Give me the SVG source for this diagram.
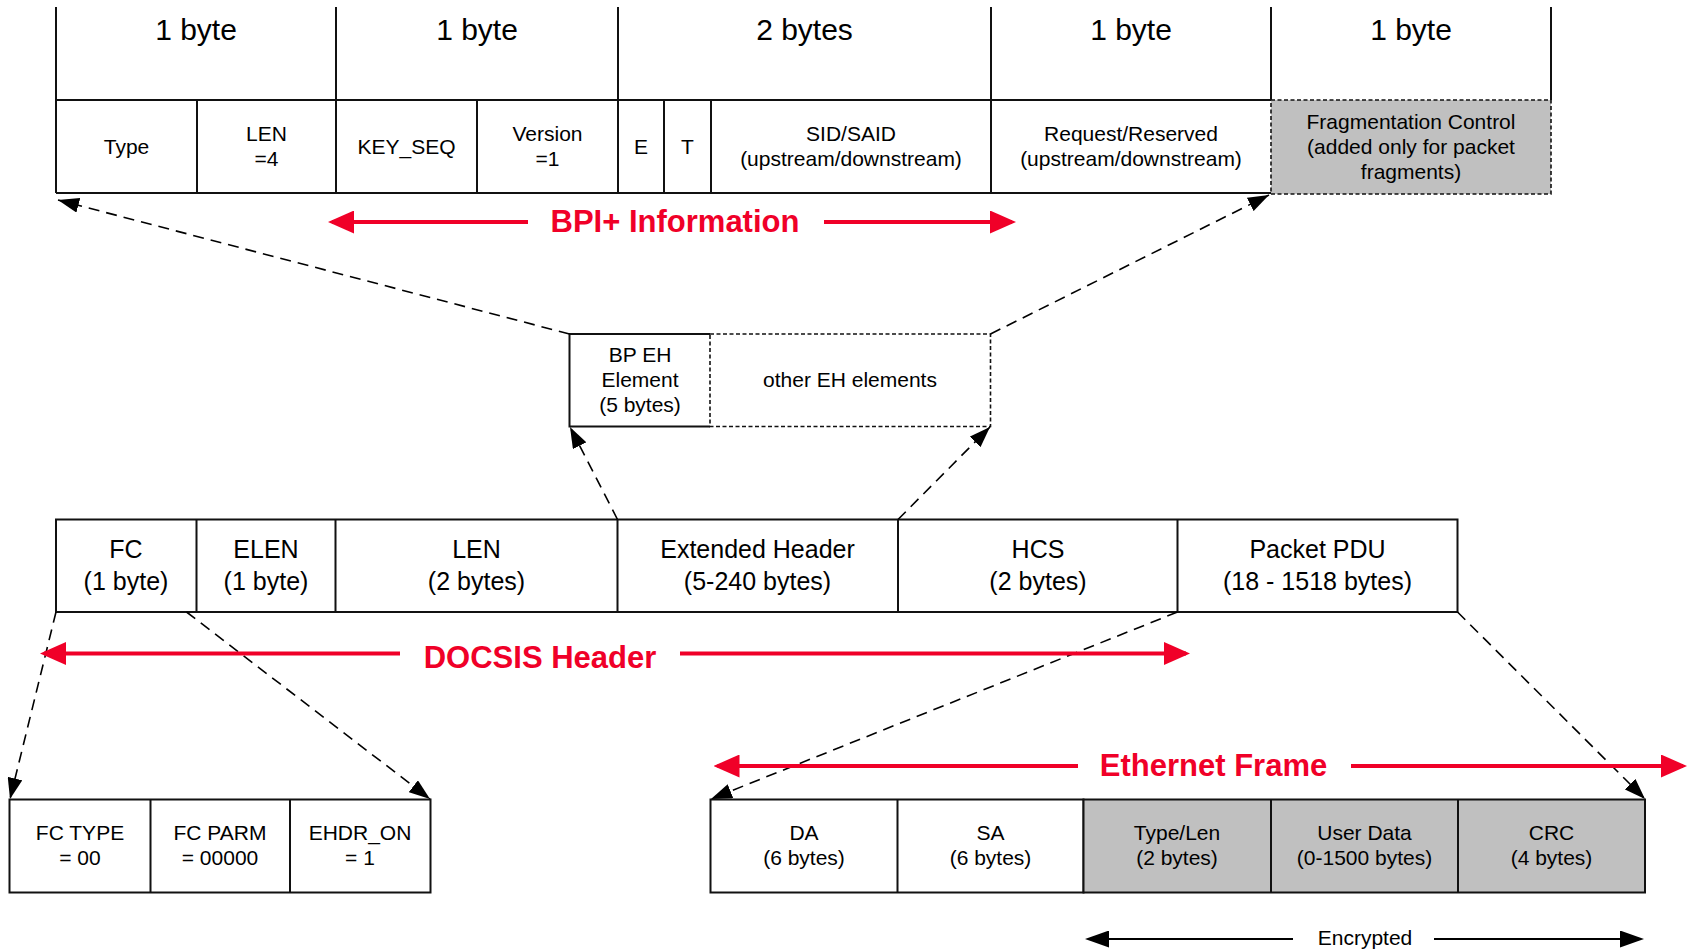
<svg xmlns="http://www.w3.org/2000/svg" width="1692" height="950" viewBox="0 0 1692 950">
  <style>
    text { font-family: "Liberation Sans", Arial, sans-serif; fill: #000; text-anchor: middle; }
    .hdr { font-size: 30px; }
    .sm { font-size: 21px; }
    .md { font-size: 25px; }
    .red { font-size: 31px; font-weight: bold; fill: #f00028; }
    .cell { fill: #fff; stroke: #111; stroke-width: 2; }
    .enc { fill: #c0c0c0; stroke: #111; stroke-width: 2; }
    .ln { stroke: #111; stroke-width: 2; fill: none; }
    .dot { stroke: #111; stroke-width: 1.6; fill: none; stroke-dasharray: 4 2.5; }
    .lead { stroke: #000; stroke-width: 1.6; fill: none; stroke-dasharray: 11 7; marker-end: url(#tipBlack); }
    .span-red { stroke: #f00028; stroke-width: 4; fill: none; marker-end: url(#tipRed); }
    .span-blk { stroke: #000; stroke-width: 2; fill: none; marker-end: url(#tipSolid); }
  </style>
  <defs>
    <marker id="tipBlack" markerUnits="userSpaceOnUse" markerWidth="21" markerHeight="15" refX="21" refY="7.5" orient="auto">
      <path d="M0,0 L21,7.5 L0,15 z" fill="#000"/>
    </marker>
    <marker id="tipRed" markerUnits="userSpaceOnUse" markerWidth="26" markerHeight="23" refX="22" refY="11.5" orient="auto">
      <path d="M0,0 L26,11.5 L0,23 z" fill="#f00028"/>
    </marker>
    <marker id="tipSolid" markerUnits="userSpaceOnUse" markerWidth="24" markerHeight="17" refX="21" refY="8.5" orient="auto">
      <path d="M0,0 L24,8.5 L0,17 z" fill="#000"/>
    </marker>
  </defs>

  <rect width="1692" height="950" fill="#fff"/>

  <!-- BP extended header element: byte sizes above, fields below -->
  <g id="bp-eh-fields">
    <g id="byte-sizes">
      <path class="ln" d="M56,7 V193 M336,7 V193 M618,7 V193 M991,7 V193 M1271,7 V100 M1551,7 V100"/>
      <text class="hdr" x="196" y="40">1 byte</text>
      <text class="hdr" x="477" y="40">1 byte</text>
      <text class="hdr" x="804.5" y="40">2 bytes</text>
      <text class="hdr" x="1131" y="40">1 byte</text>
      <text class="hdr" x="1411" y="40">1 byte</text>
    </g>
    <path class="ln" d="M56,100 H1271 M56,193 H1271 M197,100 V193 M477,100 V193 M664,100 V193 M711,100 V193"/>
    <g id="f-type"><text class="sm" x="126.5" y="154">Type</text></g>
    <g id="f-len"><text class="sm" x="266.5" y="141">LEN</text><text class="sm" x="266.5" y="166">=4</text></g>
    <g id="f-keyseq"><text class="sm" x="406.5" y="154">KEY_SEQ</text></g>
    <g id="f-version"><text class="sm" x="547.5" y="141">Version</text><text class="sm" x="547.5" y="166">=1</text></g>
    <g id="f-e"><text class="sm" x="641" y="154">E</text></g>
    <g id="f-t"><text class="sm" x="687.5" y="154">T</text></g>
    <g id="f-sid"><text class="sm" x="851" y="141">SID/SAID</text><text class="sm" x="851" y="166">(upstream/downstream)</text></g>
    <g id="f-request"><text class="sm" x="1131" y="141">Request/Reserved</text><text class="sm" x="1131" y="166">(upstream/downstream)</text></g>
    <g id="f-frag">
      <rect x="1271" y="100" width="280" height="94" fill="#c0c0c0"/>
      <rect class="dot" x="1271" y="100" width="280" height="94"/>
      <text class="sm" x="1411" y="129">Fragmentation Control</text>
      <text class="sm" x="1411" y="154">(added only for packet</text>
      <text class="sm" x="1411" y="179">fragments)</text>
    </g>
  </g>

  <!-- extended header elements -->
  <g id="eh-elements">
    <g id="bp-eh">
      <path class="ln" d="M710,334 H569.5 V426.5 H710"/>
      <text class="sm" x="640" y="362">BP EH</text>
      <text class="sm" x="640" y="387">Element</text>
      <text class="sm" x="640" y="412">(5 bytes)</text>
    </g>
    <g id="other-eh">
      <path class="dot" d="M710,334 H990.5 V426.5 H710 V334"/>
      <text class="sm" x="850" y="387">other EH elements</text>
    </g>
  </g>

  <!-- DOCSIS MAC header -->
  <g id="docsis-header">
    <rect class="cell" x="56" y="519.5" width="1401.5" height="92.5"/>
    <path class="ln" d="M196.5,519.5 V612 M335.5,519.5 V612 M617.5,519.5 V612 M898,519.5 V612 M1177.5,519.5 V612"/>
    <g id="h-fc"><text class="md" x="126" y="558">FC</text><text class="md" x="126" y="590">(1 byte)</text></g>
    <g id="h-elen"><text class="md" x="266" y="558">ELEN</text><text class="md" x="266" y="590">(1 byte)</text></g>
    <g id="h-len"><text class="md" x="476.5" y="558">LEN</text><text class="md" x="476.5" y="590">(2 bytes)</text></g>
    <g id="h-ext"><text class="md" x="757.5" y="558">Extended Header</text><text class="md" x="757.5" y="590">(5-240 bytes)</text></g>
    <g id="h-hcs"><text class="md" x="1038" y="558">HCS</text><text class="md" x="1038" y="590">(2 bytes)</text></g>
    <g id="h-pdu"><text class="md" x="1317.5" y="558">Packet PDU</text><text class="md" x="1317.5" y="590">(18 - 1518 bytes)</text></g>
  </g>

  <!-- frame control byte -->
  <g id="fc-fields">
    <rect class="cell" x="9.5" y="799.5" width="421" height="93"/>
    <path class="ln" d="M150.5,799.5 V892.5 M290,799.5 V892.5"/>
    <g id="fc-type"><text class="sm" x="80" y="840">FC TYPE</text><text class="sm" x="80" y="865">= 00</text></g>
    <g id="fc-parm"><text class="sm" x="220" y="840">FC PARM</text><text class="sm" x="220" y="865">= 00000</text></g>
    <g id="fc-ehdr"><text class="sm" x="360" y="840">EHDR_ON</text><text class="sm" x="360" y="865">= 1</text></g>
  </g>

  <!-- Ethernet frame -->
  <g id="ethernet-frame">
    <rect class="cell" x="710.5" y="799.5" width="373" height="93"/>
    <rect class="enc" x="1083.5" y="799.5" width="561.5" height="93"/>
    <path class="ln" d="M897.5,799.5 V892.5 M1271,799.5 V892.5 M1458,799.5 V892.5"/>
    <g id="e-da"><text class="sm" x="804" y="840">DA</text><text class="sm" x="804" y="865">(6 bytes)</text></g>
    <g id="e-sa"><text class="sm" x="990.5" y="840">SA</text><text class="sm" x="990.5" y="865">(6 bytes)</text></g>
    <g id="e-type"><text class="sm" x="1177" y="840">Type/Len</text><text class="sm" x="1177" y="865">(2 bytes)</text></g>
    <g id="e-data"><text class="sm" x="1364.5" y="840">User Data</text><text class="sm" x="1364.5" y="865">(0-1500 bytes)</text></g>
    <g id="e-crc"><text class="sm" x="1551.5" y="840">CRC</text><text class="sm" x="1551.5" y="865">(4 bytes)</text></g>
  </g>

  <!-- span labels -->
  <g id="labels">
    <text class="red" x="675" y="232">BPI+ Information</text>
    <text class="red" x="540" y="668">DOCSIS Header</text>
    <text class="red" x="1213.5" y="776">Ethernet Frame</text>
    <text class="sm" x="1365" y="945">Encrypted</text>
  </g>

  <!-- connectors -->
  <g id="connectors">
    <path class="lead" d="M569.5,334 L58,200"/>
    <path class="lead" d="M990.5,334 L1269,195"/>
    <path class="lead" d="M617.5,519.5 L570,427"/>
    <path class="lead" d="M898,519.5 L990,427"/>
    <path class="lead" d="M56,612 L10,799"/>
    <path class="lead" d="M186.5,612 L430,799"/>
    <path class="lead" d="M1177.5,612 L711,799"/>
    <path class="lead" d="M1457.5,612 L1645,799"/>

    <path class="span-red" d="M528,222 H332"/>
    <path class="span-red" d="M824,222 H1012"/>
    <path class="span-red" d="M400,653.5 H44"/>
    <path class="span-red" d="M680,653.5 H1186"/>
    <path class="span-red" d="M1078,766 H717.5"/>
    <path class="span-red" d="M1351,766 H1683"/>

    <path class="span-blk" d="M1293,939 H1088"/>
    <path class="span-blk" d="M1434,939 H1641"/>
  </g>
</svg>
